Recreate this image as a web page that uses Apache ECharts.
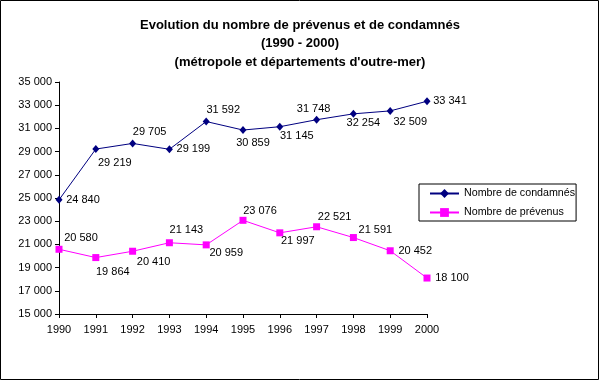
<!DOCTYPE html>
<html>
<head>
<meta charset="utf-8">
<script src="https://cdn.jsdelivr.net/npm/echarts@6/dist/echarts.min.js"></script>
<style>
html,body{margin:0;padding:0;background:#fff;}
#chart{width:600px;height:381px;}
</style>
</head>
<body>
<div id="chart"></div>
<script>
const years = ['1990','1991','1992','1993','1994','1995','1996','1997','1998','1999','2000'];
const condamnes = [24840, 29219, 29705, 29199, 31592, 30859, 31145, 31748, 32254, 32509, 33341];
const prevenus = [20580, 19864, 20410, 21143, 20959, 23076, 21997, 22521, 21591, 20452, 18100];
const seriesNames = ['Nombre de condamnés', 'Nombre de prévenus'];
const titleText = 'Evolution du nombre de prévenus et de condamnés\n(1990 - 2000)\n(métropole et départements d\'outre-mer)';

function fmt(v){ return String(v).replace(/\B(?=(\d{3})+(?!\d))/g, ' '); }

// label nudges (label centre relative to the marker), purely presentational
const nudgeC = [[24,0],[19,14],[17,-11],[24,0],[17,-12],[10,13],[17,9],[-3,-11],[10,9],[20,11],[23,0]];
const nudgeP = [[22,-11],[17,14],[21,11],[17,-13],[20,8],[17,-9],[18,8],[18,-10],[22,-8],[25,0],[25,0]];

const font = 'Liberation Sans, Arial, sans-serif';
const chart = echarts.init(document.getElementById('chart'), null, {renderer:'canvas'});
chart.setOption({
  animation: false,
  backgroundColor: '#fff',
  title: {
    text: titleText,
    left: 'center',
    top: 11,
    textStyle: {fontFamily: font, fontSize: 13, fontWeight: 'bold', color: '#000', lineHeight: 18.5}
  },
  legend: {
    orient: 'vertical',
    left: 419,
    top: 184,
    padding: [4, 1, 3, 10],
    itemGap: 8,
    itemWidth: 29,
    itemHeight: 11,
    itemTextGap: 1,
    borderColor: '#000',
    borderWidth: 1,
    borderRadius: 0,
    textStyle: {fontFamily: font, fontSize: 10.7, color: '#000', lineHeight: 11},
    data: seriesNames
  },
  grid: {left: 59, right: 173, top: 82, bottom: 67, containLabel: false},
  xAxis: {
    type: 'category',
    data: years,
    boundaryGap: false,
    axisLine: {lineStyle: {color: '#000', width: 1}},
    axisTick: {show: true, length: 4, lineStyle: {color: '#000'}, alignWithLabel: true},
    axisLabel: {fontFamily: font, fontSize: 11, color: '#000', margin: 10}
  },
  yAxis: {
    type: 'value',
    min: 15000,
    max: 35000,
    interval: 2000,
    axisLine: {show: true, lineStyle: {color: '#000', width: 1}},
    axisTick: {show: true, length: 4, lineStyle: {color: '#000'}},
    splitLine: {show: false},
    axisLabel: {fontFamily: font, fontSize: 11, color: '#000', margin: 7, formatter: v => fmt(v)}
  },
  series: [
    {
      name: seriesNames[0],
      type: 'line',
      data: condamnes,
      symbol: 'diamond',
      symbolSize: [7, 8],
      color: '#000080',
      lineStyle: {color: '#000080', width: 1},
      itemStyle: {color: '#000080'},
      label: {show: true, position: 'inside', fontFamily: font, fontSize: 11, color: '#000', formatter: p => fmt(p.value)},
      labelLayout: p => ({dx: nudgeC[p.dataIndex][0], dy: nudgeC[p.dataIndex][1], hideOverlap: false})
    },
    {
      name: seriesNames[1],
      type: 'line',
      data: prevenus,
      symbol: 'rect',
      symbolSize: 7,
      color: '#ff00ff',
      lineStyle: {color: '#ff00ff', width: 1},
      itemStyle: {color: '#ff00ff'},
      label: {show: true, position: 'inside', fontFamily: font, fontSize: 11, color: '#000', formatter: p => fmt(p.value)},
      labelLayout: p => ({dx: nudgeP[p.dataIndex][0], dy: nudgeP[p.dataIndex][1], hideOverlap: false})
    }
  ],
  graphic: [{
    type: 'rect',
    shape: {x: 0.5, y: 0.5, width: 598, height: 379},
    style: {fill: null, stroke: '#000', lineWidth: 1},
    silent: true
  }]
});
</script>
</body>
</html>
